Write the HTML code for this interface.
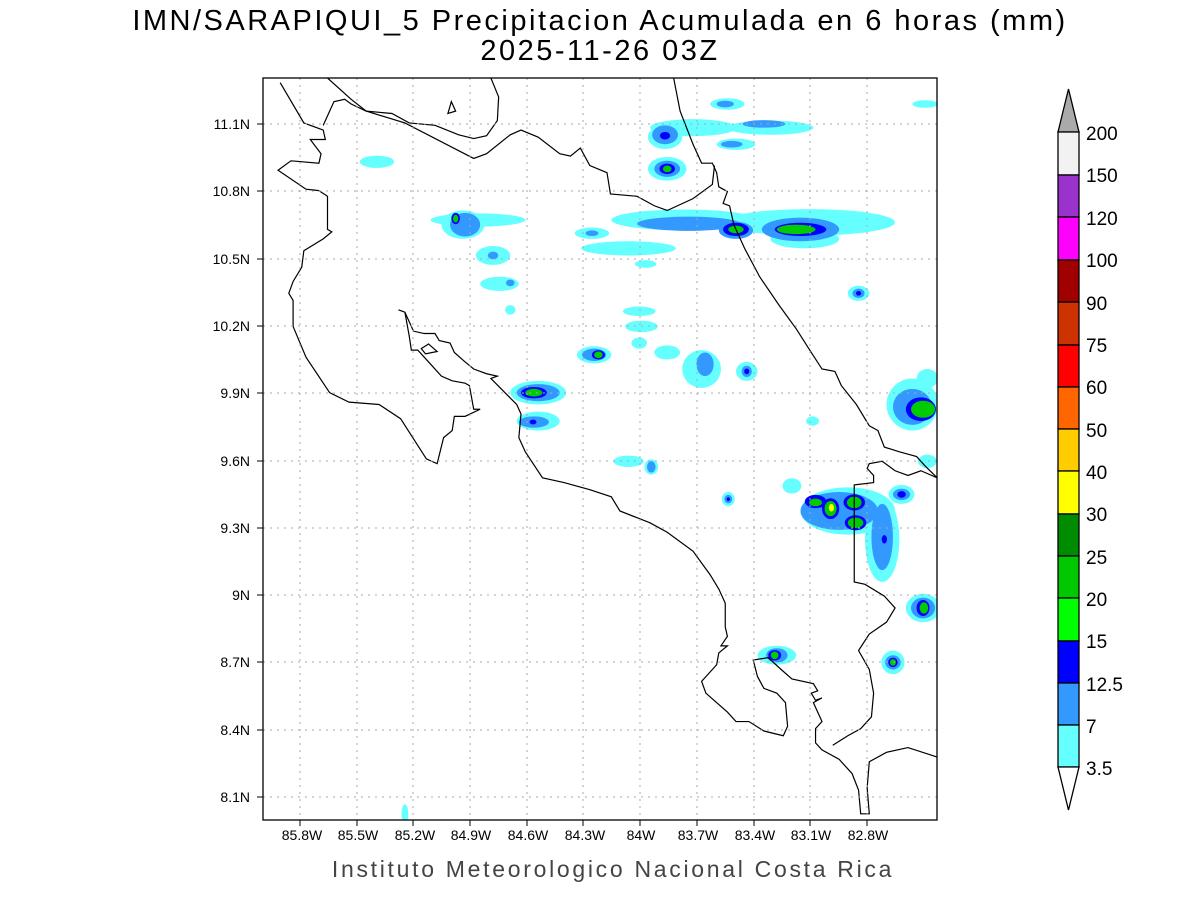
<!DOCTYPE html>
<html><head><meta charset="utf-8"><style>
body{margin:0;background:#fff;width:1200px;height:900px;overflow:hidden}
svg{display:block}
text{font-family:"Liberation Sans",sans-serif}
</style></head><body>
<svg width="1200" height="900" viewBox="0 0 1200 900">
<rect width="1200" height="900" fill="#fff"/>
<text x="600" y="30" font-size="29" text-anchor="middle" letter-spacing="2.5" fill="#000">IMN/SARAPIQUI_5 Precipitacion Acumulada en 6 horas (mm)</text>
<text x="600" y="60" font-size="29" text-anchor="middle" letter-spacing="2.5" fill="#000">2025-11-26 03Z</text>
<text x="613" y="877" font-size="23" text-anchor="middle" letter-spacing="2.7" fill="#444">Instituto Meteorologico Nacional Costa Rica</text>
<defs><clipPath id="c"><rect x="263" y="78" width="674" height="742"/></clipPath></defs>
<g clip-path="url(#c)">
<g transform="translate(263,78) scale(0.43,0.4732)">
<g fill="#66ffff">
<ellipse cx="1080" cy="55" rx="40" ry="12"/><ellipse cx="1000" cy="105" rx="100" ry="18"/><ellipse cx="1180" cy="105" rx="100" ry="15"/><ellipse cx="935" cy="125" rx="40" ry="25"/><ellipse cx="1100" cy="140" rx="45" ry="12"/><ellipse cx="940" cy="192" rx="45" ry="25"/>
<ellipse cx="265" cy="177" rx="40" ry="13"/><ellipse cx="500" cy="300" rx="110" ry="14"/><ellipse cx="465" cy="310" rx="50" ry="30"/>
<ellipse cx="980" cy="300" rx="170" ry="22"/><ellipse cx="850" cy="360" rx="110" ry="15"/><ellipse cx="1270" cy="305" rx="200" ry="28"/><ellipse cx="1260" cy="340" rx="80" ry="20"/>
<ellipse cx="765" cy="328" rx="40" ry="12"/><ellipse cx="890" cy="393" rx="25" ry="8"/><ellipse cx="535" cy="375" rx="40" ry="20"/><ellipse cx="550" cy="435" rx="45" ry="15"/>
<ellipse cx="1385" cy="455" rx="25" ry="16"/><ellipse cx="875" cy="493" rx="38" ry="10"/><ellipse cx="880" cy="525" rx="38" ry="12"/><ellipse cx="875" cy="560" rx="18" ry="12"/>
<ellipse cx="940" cy="580" rx="30" ry="15"/><ellipse cx="770" cy="585" rx="40" ry="18"/><ellipse cx="1020" cy="615" rx="45" ry="40"/><ellipse cx="1125" cy="620" rx="25" ry="20"/>
<ellipse cx="640" cy="665" rx="65" ry="25"/><ellipse cx="640" cy="725" rx="50" ry="20"/><ellipse cx="1510" cy="690" rx="60" ry="55"/><ellipse cx="1545" cy="635" rx="25" ry="20"/>
<ellipse cx="850" cy="810" rx="35" ry="12"/><ellipse cx="903" cy="822" rx="16" ry="16"/><ellipse cx="1082" cy="890" rx="15" ry="15"/><ellipse cx="1278" cy="725" rx="15" ry="10"/>
<ellipse cx="1360" cy="915" rx="110" ry="50"/><ellipse cx="1440" cy="975" rx="40" ry="90"/><ellipse cx="1485" cy="880" rx="30" ry="20"/><ellipse cx="1230" cy="862" rx="22" ry="16"/>
<ellipse cx="1535" cy="1120" rx="40" ry="30"/><ellipse cx="1195" cy="1220" rx="45" ry="20"/><ellipse cx="1465" cy="1235" rx="27" ry="25"/>
<ellipse cx="1540" cy="55" rx="30" ry="8"/><ellipse cx="330" cy="1555" rx="8" ry="20"/><ellipse cx="1545" cy="810" rx="22" ry="14"/><ellipse cx="575" cy="490" rx="12" ry="10"/>
</g>
<g fill="#3399ff">
<ellipse cx="1075" cy="55" rx="20" ry="7"/><ellipse cx="935" cy="120" rx="30" ry="20"/><ellipse cx="1165" cy="97" rx="50" ry="8"/><ellipse cx="1090" cy="140" rx="25" ry="7"/>
<ellipse cx="940" cy="192" rx="30" ry="17"/><ellipse cx="470" cy="310" rx="35" ry="25"/><ellipse cx="990" cy="308" rx="120" ry="15"/><ellipse cx="1100" cy="322" rx="40" ry="18"/>
<ellipse cx="1250" cy="320" rx="90" ry="25"/><ellipse cx="765" cy="328" rx="15" ry="6"/><ellipse cx="535" cy="375" rx="12" ry="8"/><ellipse cx="575" cy="433" rx="10" ry="7"/>
<ellipse cx="1385" cy="455" rx="14" ry="10"/><ellipse cx="770" cy="585" rx="28" ry="13"/><ellipse cx="1028" cy="605" rx="20" ry="25"/><ellipse cx="1125" cy="620" rx="12" ry="12"/>
<ellipse cx="640" cy="665" rx="50" ry="18"/><ellipse cx="630" cy="727" rx="35" ry="12"/><ellipse cx="1510" cy="695" rx="45" ry="38"/><ellipse cx="903" cy="822" rx="10" ry="12"/>
<ellipse cx="1082" cy="890" rx="9" ry="9"/><ellipse cx="1340" cy="915" rx="90" ry="40"/><ellipse cx="1440" cy="970" rx="25" ry="70"/><ellipse cx="1485" cy="880" rx="20" ry="12"/>
<ellipse cx="1535" cy="1120" rx="28" ry="22"/><ellipse cx="1195" cy="1220" rx="25" ry="15"/><ellipse cx="1465" cy="1235" rx="18" ry="15"/>
</g>
<g fill="#0000ff">
<ellipse cx="935" cy="122" rx="12" ry="8"/><ellipse cx="940" cy="192" rx="18" ry="11"/><ellipse cx="448" cy="297" rx="10" ry="12"/><ellipse cx="1100" cy="320" rx="30" ry="14"/>
<ellipse cx="1250" cy="320" rx="60" ry="14"/><ellipse cx="1385" cy="455" rx="6" ry="5"/><ellipse cx="780" cy="585" rx="15" ry="10"/><ellipse cx="1125" cy="620" rx="6" ry="6"/>
<ellipse cx="630" cy="665" rx="30" ry="12"/><ellipse cx="628" cy="727" rx="8" ry="5"/><ellipse cx="1530" cy="700" rx="35" ry="25"/><ellipse cx="1082" cy="890" rx="4" ry="4"/>
<ellipse cx="1285" cy="895" rx="25" ry="14"/><ellipse cx="1320" cy="910" rx="20" ry="22"/><ellipse cx="1375" cy="897" rx="25" ry="17"/><ellipse cx="1378" cy="940" rx="25" ry="16"/>
<ellipse cx="1485" cy="880" rx="10" ry="7"/><ellipse cx="1535" cy="1120" rx="15" ry="17"/><ellipse cx="1190" cy="1220" rx="15" ry="11"/><ellipse cx="1465" cy="1235" rx="11" ry="10"/><ellipse cx="1445" cy="975" rx="6" ry="9"/>
</g>
<g fill="#00cc00">
<ellipse cx="940" cy="192" rx="10" ry="7"/><ellipse cx="448" cy="297" rx="6" ry="8"/><ellipse cx="1100" cy="320" rx="18" ry="8"/><ellipse cx="1240" cy="320" rx="45" ry="10"/>
<ellipse cx="780" cy="585" rx="10" ry="7"/><ellipse cx="630" cy="665" rx="20" ry="8"/><ellipse cx="1535" cy="700" rx="28" ry="18"/>
<ellipse cx="1285" cy="897" rx="15" ry="8"/><ellipse cx="1320" cy="910" rx="14" ry="16"/><ellipse cx="1375" cy="897" rx="17" ry="12"/><ellipse cx="1378" cy="940" rx="18" ry="11"/>
<ellipse cx="1537" cy="1120" rx="10" ry="12"/><ellipse cx="1190" cy="1220" rx="9" ry="8"/><ellipse cx="1465" cy="1235" rx="7" ry="7"/>
</g>
<ellipse cx="1322" cy="908" rx="6" ry="8" fill="#ffff00"/>
<g fill="none" stroke="#000" stroke-width="1.2">
<path vector-effect="non-scaling-stroke" d="M40,10 L95,95 L140,110 L145,130 L110,130 L135,160 L130,180 L65,175 L35,195 L100,235 L130,238 L150,250 L150,320 L160,325 L140,340 L95,365 L90,400 L70,430 L60,455 L70,470 L70,525 L100,590 L155,665 L200,685 L270,690 L320,720 L380,805 L405,815 L420,760 L440,745 L445,715 L470,715 L505,700 L490,700 L480,650 L470,645 L440,640 L415,630 L385,600 L360,575 L345,575 L340,545 L330,495 L315,490"/>
<path vector-effect="non-scaling-stroke" d="M330,495 L350,535 L375,540 L400,540 L410,555 L435,560 L445,580 L470,600 L490,615 L520,625 L545,630 L530,635 L590,690 L600,710 L595,760 L610,790 L650,845 L700,855 L760,870 L810,885 L830,915 L900,940 L940,960 L1000,1000 L1040,1050 L1060,1080 L1075,1110 L1075,1160 L1080,1180 L1065,1200 L1080,1200 L1060,1215 L1055,1240 L1035,1260 L1020,1275 L1030,1300 L1080,1340 L1100,1360 L1130,1360 L1165,1380 L1210,1390 L1220,1370 L1215,1320 L1195,1300 L1165,1290 L1150,1265 L1140,1230 L1175,1225 L1205,1250 L1230,1270 L1280,1280 L1290,1295 L1275,1300 L1285,1315 L1300,1310 L1280,1320 L1290,1340 L1300,1360 L1285,1375 L1285,1405 L1300,1420 L1340,1440 L1370,1470 L1385,1505 L1390,1555 L1410,1555 L1405,1500 L1410,1445 L1450,1425 L1500,1415 L1568,1435"/>
<path vector-effect="non-scaling-stroke" d="M1325,1410 L1360,1390 L1390,1375 L1415,1350 L1420,1300 L1410,1250 L1385,1210 L1410,1175 L1450,1150 L1470,1120 L1445,1095 L1400,1070 L1375,1065 L1375,860 L1420,855 L1420,840 L1405,825 L1410,815 L1440,810 L1470,830 L1500,840 L1530,830 L1568,845"/>
<path vector-effect="non-scaling-stroke" d="M955,0 L970,70 L1000,140 L1020,180 L1045,180 L1055,200 L1060,230 L1080,240 L1070,265 L1085,270 L1095,310 L1120,360 L1155,420 L1200,480 L1240,530 L1275,580 L1300,615 L1330,620 L1345,650 L1380,690 L1410,735 L1430,745 L1445,780 L1480,790 L1520,800 L1540,820 L1568,845"/>
<path vector-effect="non-scaling-stroke" d="M150,0 L205,45 L240,70 L330,95 L490,170 L520,160 L575,120 L600,110 L640,125 L690,160 L715,165 L738,148 L760,185 L800,200 L808,245 L870,250 L910,270 L940,280 L1000,255 L1045,225 L1050,185"/>
<path vector-effect="non-scaling-stroke" d="M530,0 L548,40 L545,90 L520,122 L490,128 L455,120 L400,100 L340,95 L300,75 L240,70 L205,55 L190,45 L165,50 L140,100"/>
<path vector-effect="non-scaling-stroke" d="M430,75 L438,50 L448,70 Z M368,572 L385,562 L405,578 L378,583 Z"/>
</g>
</g>
</g>
<g stroke="#aaa" stroke-width="1" stroke-dasharray="2,5">
<line x1="300" y1="78" x2="300" y2="820"/><line x1="357" y1="78" x2="357" y2="820"/><line x1="413" y1="78" x2="413" y2="820"/><line x1="470" y1="78" x2="470" y2="820"/><line x1="527" y1="78" x2="527" y2="820"/><line x1="583" y1="78" x2="583" y2="820"/><line x1="640" y1="78" x2="640" y2="820"/><line x1="697" y1="78" x2="697" y2="820"/><line x1="754" y1="78" x2="754" y2="820"/><line x1="810" y1="78" x2="810" y2="820"/><line x1="867" y1="78" x2="867" y2="820"/>
<line x1="263" y1="124" x2="937" y2="124"/><line x1="263" y1="191" x2="937" y2="191"/><line x1="263" y1="259" x2="937" y2="259"/><line x1="263" y1="326" x2="937" y2="326"/><line x1="263" y1="393" x2="937" y2="393"/><line x1="263" y1="461" x2="937" y2="461"/><line x1="263" y1="528" x2="937" y2="528"/><line x1="263" y1="595" x2="937" y2="595"/><line x1="263" y1="662" x2="937" y2="662"/><line x1="263" y1="730" x2="937" y2="730"/><line x1="263" y1="797" x2="937" y2="797"/>
</g>
<rect x="263" y="78" width="674" height="742" fill="none" stroke="#000" stroke-width="1.3"/>
<g stroke="#000"><line x1="257" y1="124" x2="263" y2="124"/><line x1="257" y1="191" x2="263" y2="191"/><line x1="257" y1="259" x2="263" y2="259"/><line x1="257" y1="326" x2="263" y2="326"/><line x1="257" y1="393" x2="263" y2="393"/><line x1="257" y1="461" x2="263" y2="461"/><line x1="257" y1="528" x2="263" y2="528"/><line x1="257" y1="595" x2="263" y2="595"/><line x1="257" y1="662" x2="263" y2="662"/><line x1="257" y1="730" x2="263" y2="730"/><line x1="257" y1="797" x2="263" y2="797"/>
<line x1="300" y1="820" x2="300" y2="826"/><line x1="357" y1="820" x2="357" y2="826"/><line x1="413" y1="820" x2="413" y2="826"/><line x1="470" y1="820" x2="470" y2="826"/><line x1="527" y1="820" x2="527" y2="826"/><line x1="583" y1="820" x2="583" y2="826"/><line x1="640" y1="820" x2="640" y2="826"/><line x1="697" y1="820" x2="697" y2="826"/><line x1="754" y1="820" x2="754" y2="826"/><line x1="810" y1="820" x2="810" y2="826"/><line x1="867" y1="820" x2="867" y2="826"/></g>
<g font-size="14" text-anchor="end" fill="#000">
<text x="250" y="129">11.1N</text><text x="250" y="196">10.8N</text><text x="250" y="264">10.5N</text><text x="250" y="331">10.2N</text><text x="250" y="398">9.9N</text><text x="250" y="466">9.6N</text><text x="250" y="533">9.3N</text><text x="250" y="600">9N</text><text x="250" y="667">8.7N</text><text x="250" y="735">8.4N</text><text x="250" y="802">8.1N</text>
</g>
<g font-size="14" text-anchor="middle" fill="#000">
<text x="302" y="840">85.8W</text><text x="358" y="840">85.5W</text><text x="415" y="840">85.2W</text><text x="471" y="840">84.9W</text><text x="528" y="840">84.6W</text><text x="585" y="840">84.3W</text><text x="641" y="840">84W</text><text x="698" y="840">83.7W</text><text x="755" y="840">83.4W</text><text x="811" y="840">83.1W</text><text x="868" y="840">82.8W</text>
</g>
<g stroke="#000" stroke-width="1.3">
<polygon points="1058,132 1079,132 1068.5,89" fill="#aaaaaa"/>
<rect x="1058" y="132" width="21" height="43" fill="#f2f2f2"/>
<rect x="1058" y="175" width="21" height="42" fill="#9933cc"/>
<rect x="1058" y="217" width="21" height="43" fill="#ff00ff"/>
<rect x="1058" y="260" width="21" height="42" fill="#a00000"/>
<rect x="1058" y="302" width="21" height="43" fill="#cc3300"/>
<rect x="1058" y="345" width="21" height="42" fill="#ff0000"/>
<rect x="1058" y="387" width="21" height="42" fill="#ff6600"/>
<rect x="1058" y="429" width="21" height="42" fill="#ffcc00"/>
<rect x="1058" y="471" width="21" height="43" fill="#ffff00"/>
<rect x="1058" y="514" width="21" height="42" fill="#008c00"/>
<rect x="1058" y="556" width="21" height="42" fill="#00c800"/>
<rect x="1058" y="598" width="21" height="43" fill="#00ff00"/>
<rect x="1058" y="641" width="21" height="42" fill="#0000ff"/>
<rect x="1058" y="683" width="21" height="42" fill="#3399ff"/>
<rect x="1058" y="725" width="21" height="42" fill="#66ffff"/>
<polygon points="1058,767 1079,767 1068.5,810" fill="#fff"/>
</g>
<g font-size="19" fill="#000">
<text x="1086" y="140">200</text><text x="1086" y="182">150</text><text x="1086" y="225">120</text><text x="1086" y="267">100</text><text x="1086" y="310">90</text><text x="1086" y="352">75</text><text x="1086" y="394">60</text><text x="1086" y="437">50</text><text x="1086" y="479">40</text><text x="1086" y="521">30</text><text x="1086" y="564">25</text><text x="1086" y="606">20</text><text x="1086" y="648">15</text><text x="1086" y="691">12.5</text><text x="1086" y="733">7</text><text x="1086" y="775">3.5</text>
</g>
</svg>
</body></html>
